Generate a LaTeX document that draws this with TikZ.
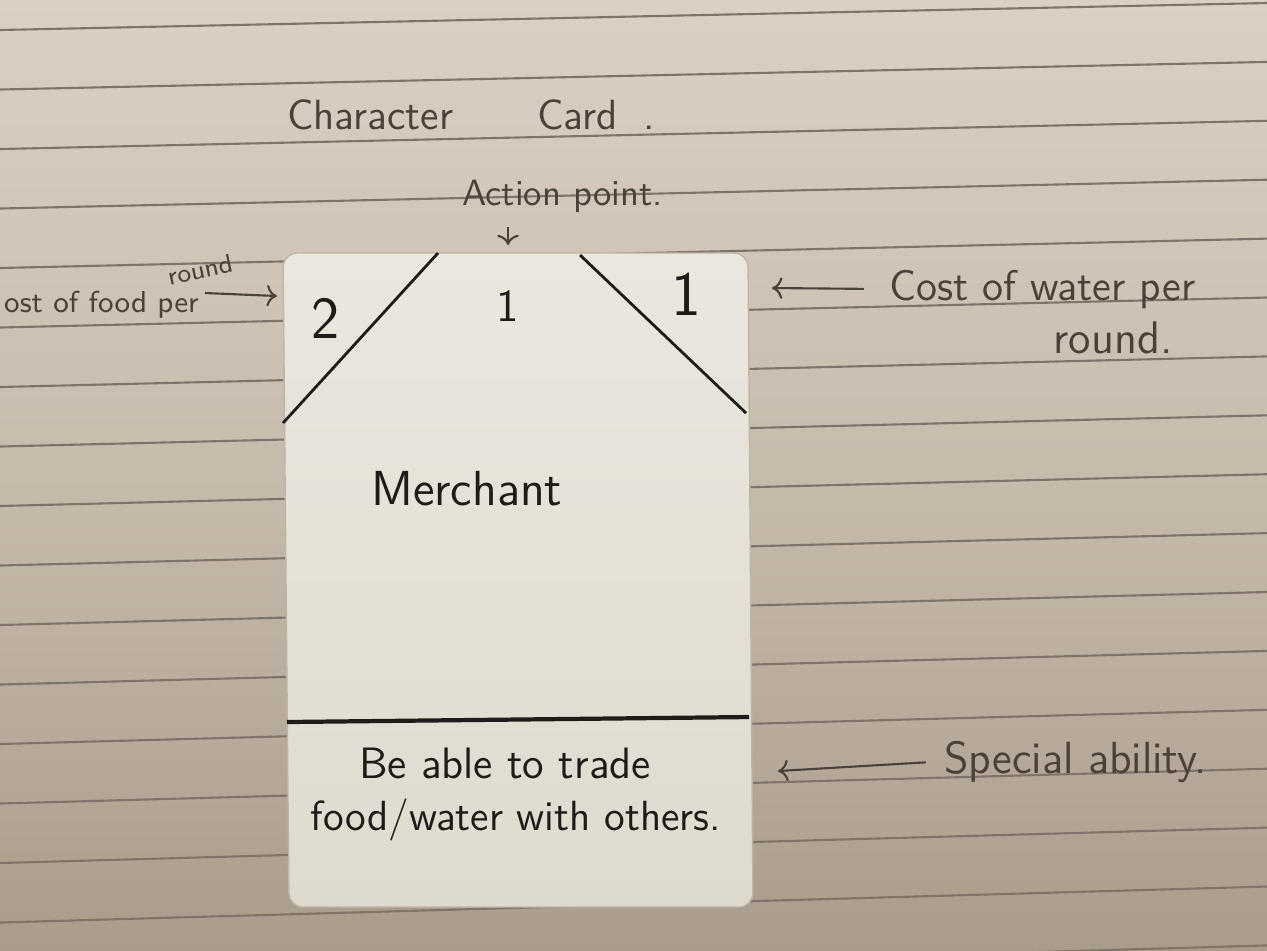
\documentclass[tikz,border=0pt]{standalone}
\usetikzlibrary{arrows.meta}

\definecolor{paperTop}{HTML}{DAD0C4}
\definecolor{paperMid}{HTML}{C7BBAC}
\definecolor{paperBot}{HTML}{AA9C8B}
\definecolor{ruleLine}{HTML}{7E746A}
\definecolor{cardTop}{HTML}{EAE7DF}
\definecolor{cardBot}{HTML}{DEDACE}
\definecolor{cardEdge}{HTML}{BDB5A7}
\definecolor{pencil}{HTML}{4A4139}
\definecolor{ink}{HTML}{1E1B19}

\tikzset{
    hand/.style={text=pencil, inner sep=1pt},
    cardtext/.style={text=ink, inner sep=1pt},
    note/.style={->, pencil, semithick},
    cardline/.style={ink, thick},
}
\newcommand{\fs}[1]{\sffamily\fontsize{#1}{1.2\dimexpr#1pt\relax}\selectfont}

\begin{document}
\begin{tikzpicture}[x=0.01cm, y=-0.01cm]
    \useasboundingbox (0,0) rectangle (1267,950);

    % lined paper
    \shade[top color=paperTop, bottom color=paperBot, middle color=paperMid] (0,0) rectangle (1267,950);
    \foreach \i in {0,...,16}
        \draw[ruleLine, line width=0.6pt] (0,{30+59.5*\i}) -- (1267,{3+58.9*\i});

    % the card
    \shade[draw=cardEdge, line width=0.4pt, rounded corners=4pt, top color=cardTop, bottom color=cardBot]
        (283,253) -- (748,253) -- (753,907) -- (289,907) -- cycle;
    \draw[cardline] (283,423) -- (438,253);
    \draw[cardline] (580,255) -- (746,413);
    \draw[cardline, line width=1.2pt] (287,722) -- (749,717);

    % card contents
    \node[cardtext, font=\fs{17}] (food) at (326,318) {2};
    \node[cardtext, font=\fs{13}] (action) at (508,306) {1};
    \node[cardtext, font=\fs{18}] (water) at (686,294) {1};
    \node[cardtext, font=\fs{14}, anchor=base west] (name) at (367,505) {Merchant};
    \node[cardtext, font=\fs{12.5}, anchor=base] (ability1) at (505,778) {Be able to trade};
    \node[cardtext, font=\fs{12}, anchor=base] (ability2) at (516,830) {food/water with others.};

    % title
    \node[hand, font=\fs{12}, anchor=base west] (title) at (283,129) {Character\hspace{2em}Card\hspace{0.6em}.};

    % action point
    \node[hand, font=\fs{10.4}, anchor=base west] (actlabel) at (458,205) {Action point.};
    \coordinate (acttip) at (508,245);
    \draw[note, shorten <=3pt] (actlabel.south -| acttip) -- (acttip);

    % food cost
    \node[hand, font=\fs{8.6}, anchor=base west] (foodlabel) at (0,312) {ost of food per};
    \node[hand, font=\fs{7.4}, rotate=12] (foodround) at (200,270) {round};
    \coordinate (foodtail) at (205,293);
    \coordinate (foodtip) at (277,296);
    \draw[note] (foodtail) -- (foodtip);

    % water cost
    \node[hand, font=\fs{12.2}, anchor=base west] (waterlabel) at (885,300) {Cost of water per};
    \node[hand, font=\fs{13}, anchor=base] (waterround) at (1113,353) {round.};
    \coordinate (watertip) at (772,288);
    \draw[note, shorten <=6pt] (waterlabel.west) -- (watertip);

    % special ability
    \node[hand, font=\fs{12.8}, anchor=base west] (abilitylabel) at (940,773) {Special ability.};
    \coordinate (abilitytip) at (778,771);
    \draw[note, shorten <=4pt] (abilitylabel.west) -- (abilitytip);
\end{tikzpicture}
\end{document}
